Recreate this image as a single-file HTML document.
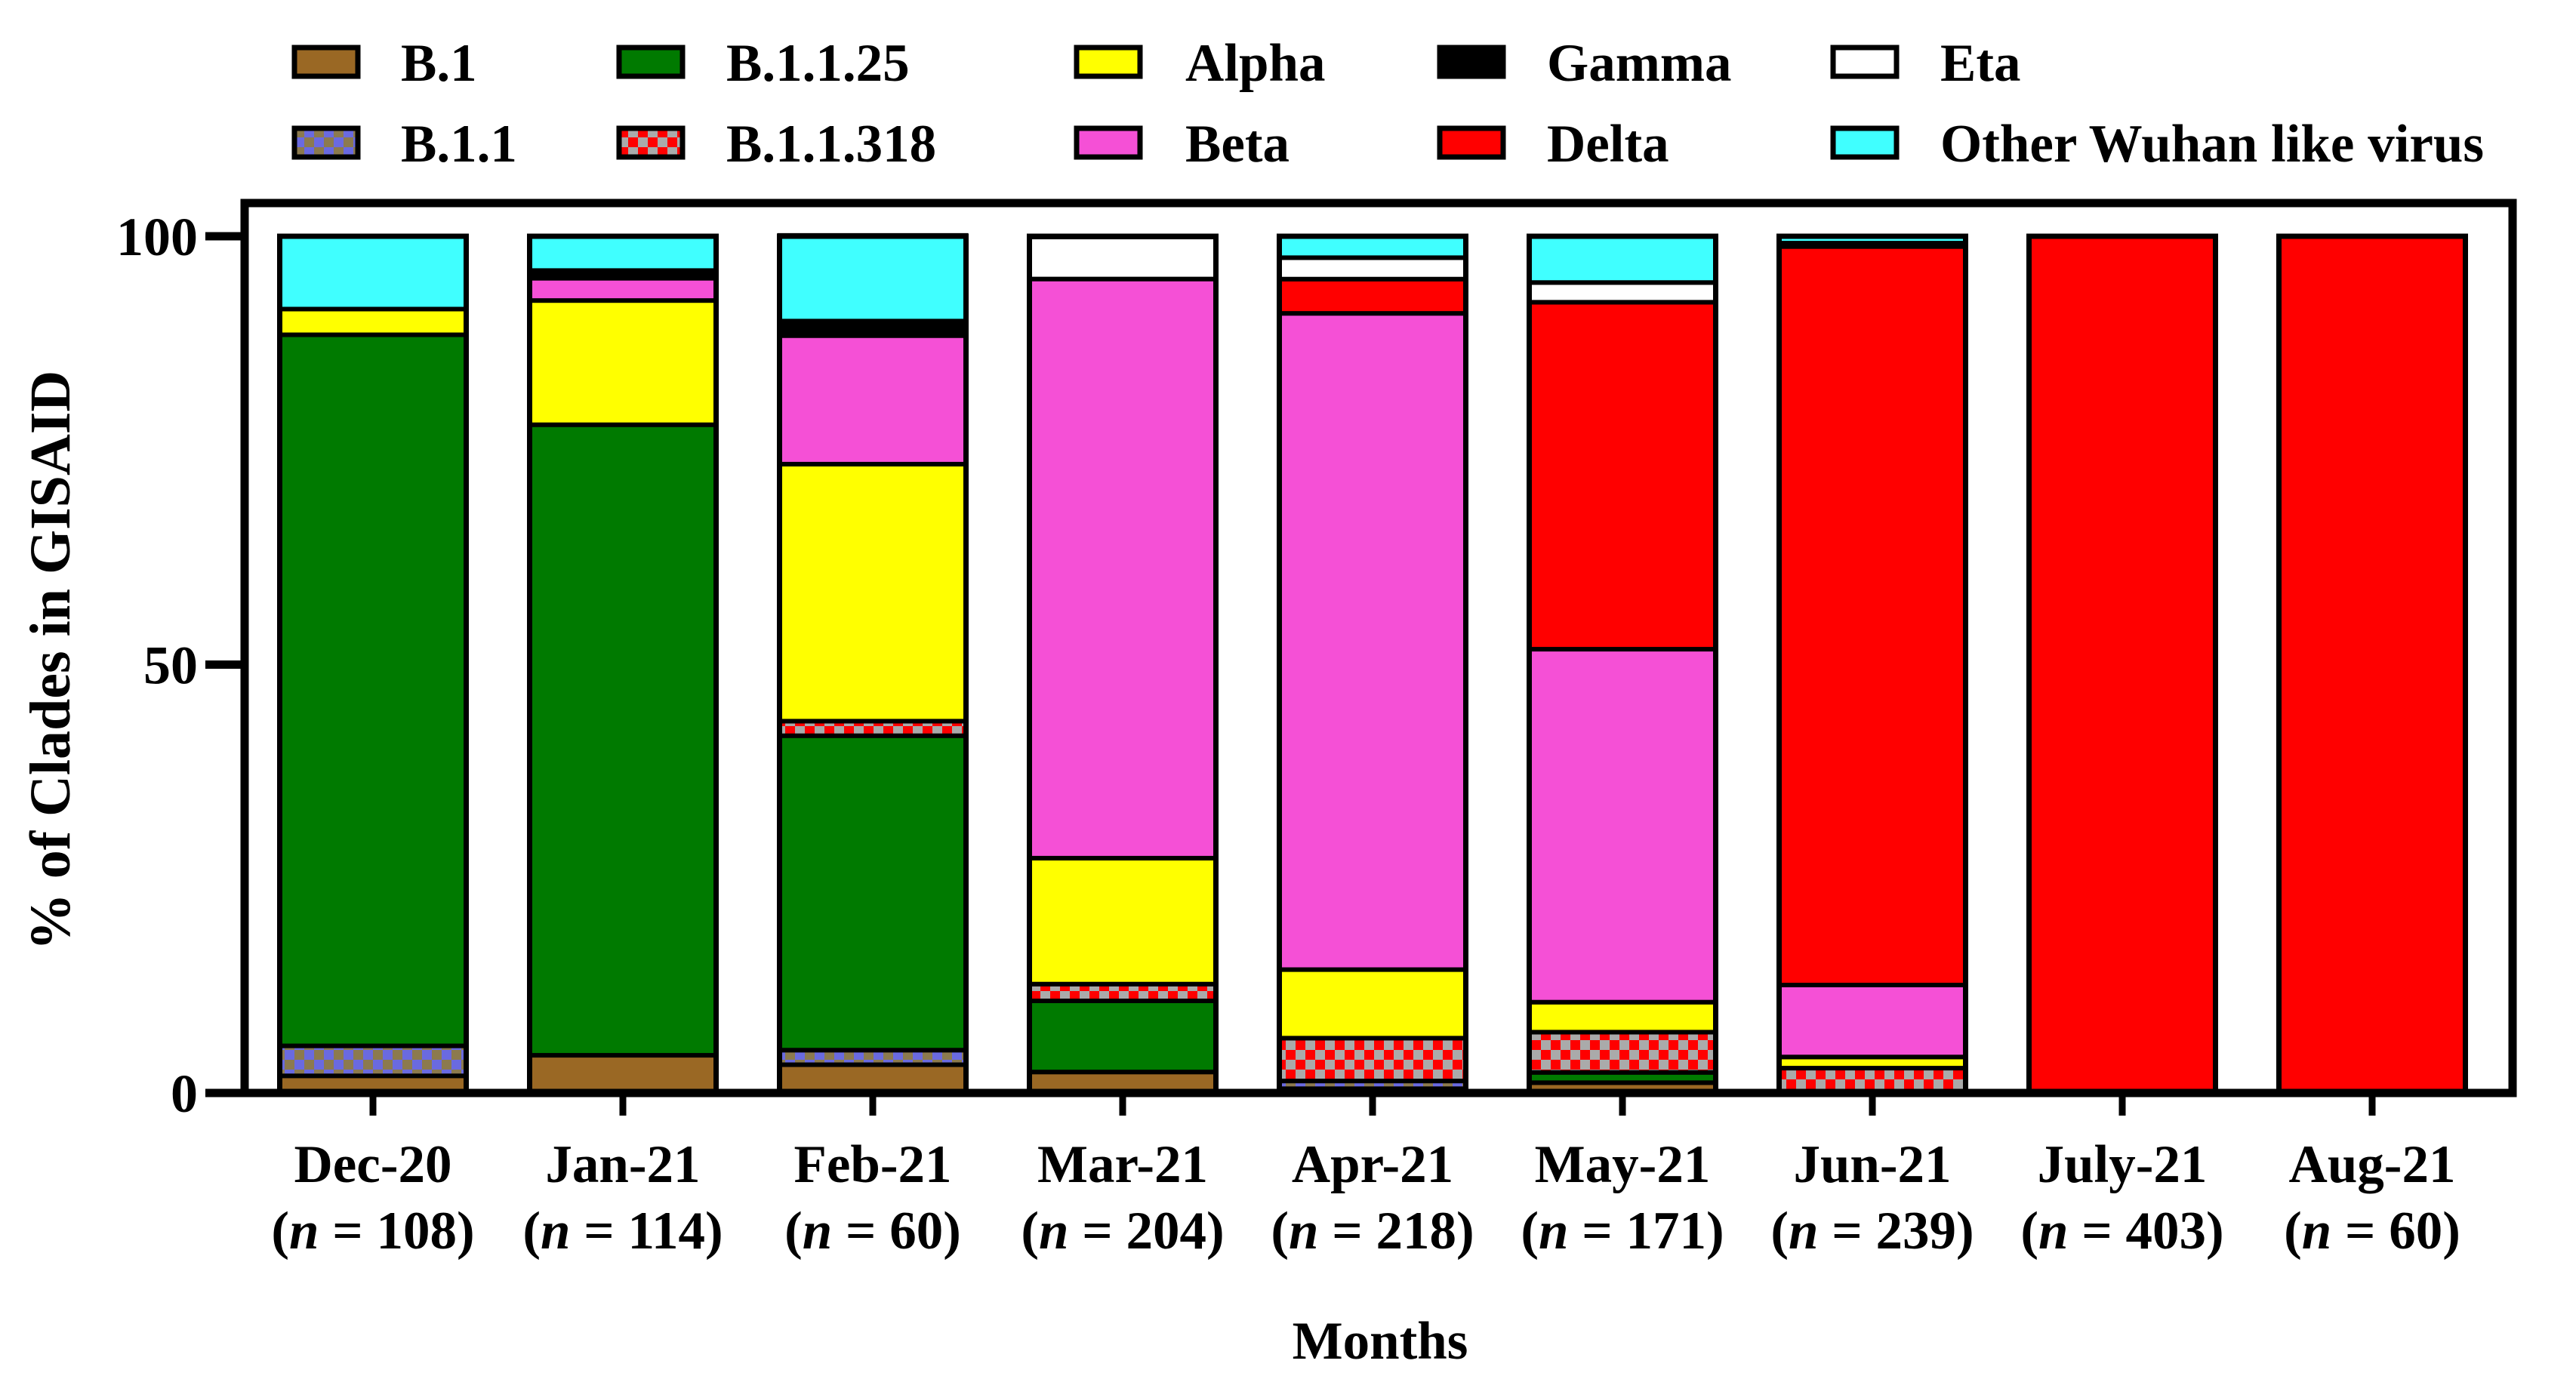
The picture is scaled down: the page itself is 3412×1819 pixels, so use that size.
<!DOCTYPE html>
<html><head><meta charset="utf-8"><style>
html,body{margin:0;padding:0;background:#fff;}
svg{display:block;font-family:"Liberation Serif",serif;font-weight:bold;}
</style></head><body>
<svg id="chart" width="3412" height="1819" viewBox="0 0 3412 1819" xmlns="http://www.w3.org/2000/svg">
<defs>
<pattern id="pB11" patternUnits="userSpaceOnUse" width="26" height="26">
<rect width="26" height="26" fill="#8c7a4e"/><rect width="13" height="13" fill="#6a6ae0"/><rect x="13" y="13" width="13" height="13" fill="#6a6ae0"/>
</pattern>
<pattern id="pB318" patternUnits="userSpaceOnUse" width="26" height="26">
<rect width="26" height="26" fill="#aaaaaa"/><rect width="13" height="13" fill="#ff0000"/><rect x="13" y="13" width="13" height="13" fill="#ff0000"/>
</pattern>
</defs>
<g id="legend"></g>
<g id="bars"></g>
<g id="axes"></g>
</svg>
<script>
const categories = ["Dec-20","Jan-21","Feb-21","Mar-21","Apr-21","May-21","Jun-21","July-21","Aug-21"];
const counts = ["108","114","60","204","218","171","239","403","60"];
const seriesNames = ["B.1","B.1.1","B.1.1.25","B.1.1.318","Alpha","Beta","Gamma","Delta","Eta","Other Wuhan like virus"];
const sB1      = [2, 4.4, 3.3, 2.45, 0.5, 1.2, 0, 0, 0];
const sB11     = [3.5, 0, 1.7, 0, 0.9, 0, 0, 0, 0];
const sB1125   = [83, 73.6, 36.7, 8.3, 0, 1.2, 0, 0, 0];
const sB11318  = [0, 0, 1.7, 1.96, 5, 4.7, 2.9, 0, 0];
const sAlpha   = [3, 14.5, 30, 14.7, 8, 3.5, 1.3, 0, 0];
const sBeta    = [0, 2.6, 15, 67.6, 76.6, 41.2, 8.4, 0, 0];
const sGamma   = [0, 0.9, 1.7, 0, 0, 0, 0, 0, 0];
const sDelta   = [0, 0, 0, 0, 4, 40.5, 86.2, 100, 100];
const sEta     = [0, 0, 0, 4.9, 2.5, 2.3, 0.4, 0, 0];
const sOther   = [8.5, 4.0, 10, 0, 2.5, 5.4, 0.8, 0, 0];
const yTicks = [0, 50, 100];

const series = [sB1,sB11,sB1125,sB11318,sAlpha,sBeta,sGamma,sDelta,sEta,sOther];
const fills = ["#9a6824","url(#pB11)","#007a00","url(#pB318)","#ffff00","#f550d6","#000000","#ff0000","#ffffff","#40ffff"];
const NS = "http://www.w3.org/2000/svg";
const X0 = 324, X1 = 3328, Y0 = 1448, Y100 = 313;
const y = v => Y0 - (v / 100) * (Y0 - Y100);
const step = 331, firstC = 494, barW = 247;
const xc = i => firstC + i * step;
function mk(tag, attrs, parent){const e=document.createElementNS(NS,tag);for(const k in attrs)e.setAttribute(k,attrs[k]);parent.appendChild(e);return e;}

const gb = document.getElementById('bars');
categories.forEach((c, i) => {
  let acc = 0;
  series.forEach((s, k) => {
    const v = s[i];
    if (v <= 0) return;
    const r = mk('rect', {x: xc(i) - barW/2, y: y(acc + v), width: barW, height: y(acc) - y(acc + v), fill: fills[k], stroke: '#000', 'stroke-width': 6}, gb);
    
    
    acc += v;
  });
  const o = mk('rect', {x: xc(i) - barW/2, y: y(100), width: barW, height: y(0) - y(100), fill: 'none', stroke: '#000', 'stroke-width': 7}, gb);
  
  
});

const ga = document.getElementById('axes');
const frame = mk('rect', {x: X0, y: 269, width: X1 - X0, height: Y0 - 269, fill: 'none', stroke: '#000', 'stroke-width': 11}, ga);


yTicks.forEach(t => {
  const l = mk('line', {x1: 272, x2: X0, y1: y(t), y2: y(t), stroke: '#000', 'stroke-width': 11}, ga);
  
  
  const tx = mk('text', {x: 262, y: y(t) + 25, 'text-anchor': 'end', 'font-size': 72}, ga);
  tx.textContent = t;
  
  
});
categories.forEach((c, i) => {
  const l = mk('line', {x1: xc(i), x2: xc(i), y1: Y0, y2: Y0 + 30, stroke: '#000', 'stroke-width': 9}, ga);
  
  
  const t1 = mk('text', {x: xc(i), y: 1566, 'text-anchor': 'middle', 'font-size': 71}, ga);
  t1.textContent = c;
  
  
  const t2 = mk('text', {x: xc(i), y: 1654, 'text-anchor': 'middle', 'font-size': 71}, ga);
  t2.innerHTML = '(<tspan font-style="italic">n</tspan> = ' + counts[i] + ')';
  
  
});
const xt = mk('text', {x: 1828, y: 1800, 'text-anchor': 'middle', 'font-size': 71}, ga);
xt.textContent = 'Months';


const yt = mk('text', {x: 0, y: 0, 'text-anchor': 'middle', 'font-size': 76, transform: 'translate(92,875) rotate(-90)'}, ga);
yt.textContent = '% of Clades in GISAID';



const gl = document.getElementById('legend');
const legendPos = [[0,0],[0,1],[1,0],[1,1],[2,0],[2,1],[3,0],[3,1],[4,0],[4,1]];
const swX = [390, 820, 1426, 1907, 2428], txX = [531, 962, 1570, 2049, 2570], rowY = [83, 190];
seriesNames.forEach((n, k) => {
  const [c, r] = legendPos[k];
  const s = mk('rect', {x: swX[c], y: rowY[r] - 20, width: 84, height: 38, fill: fills[k], stroke: '#000', 'stroke-width': 7}, gl);
  
  
  const t = mk('text', {x: txX[c], y: rowY[r] + 24, 'font-size': 71}, gl);
  t.textContent = n;
  
  
});
</script>
</body></html>
